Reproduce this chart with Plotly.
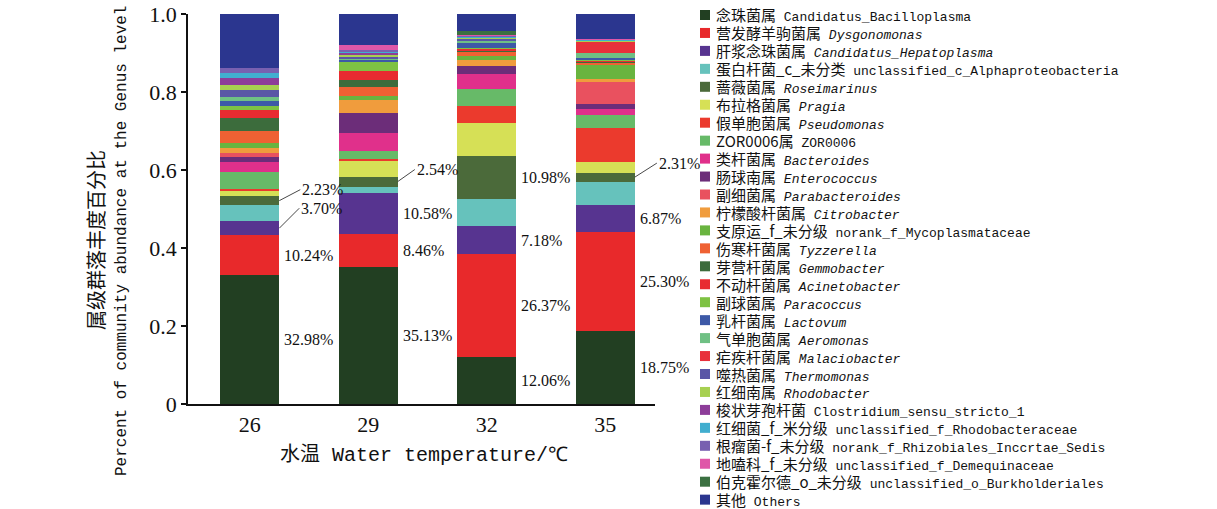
import plotly.graph_objects as go

# Water temperature groups (°C)
temperatures = ["26", "29", "32", "35"]

# Genus names: Chinese name, Latin name, whether the Latin name is italic
genus_cn = [
    "念珠菌属", "营发酵羊驹菌属", "肝浆念珠菌属", "蛋白杆菌_c_未分类", "蔷薇菌属",
    "布拉格菌属", "假单胞菌属", "ZOR0006属", "类杆菌属", "肠球南属",
    "副细菌属", "柠檬酸杆菌属", "支原运_f_未分级", "伤寒杆菌属", "芽营杆菌属",
    "不动杆菌属", "副球菌属", "乳杆菌属", "气单胞菌属", "疟疾杆菌属",
    "噬热菌属", "红细南属", "梭状芽孢杆菌", "红细菌_f_米分级", "根瘤菌-f_未分级",
    "地嗑科_f_未分级", "伯克霍尔德_o_未分级", "其他",
]
genus_en = [
    "Candidatus_Bacilloplasma", "Dysgonomonas", "Candidatus_Hepatoplasma",
    "unclassified_c_Alphaproteobacteria", "Roseimarinus", "Pragia", "Pseudomonas",
    "ZOR0006", "Bacteroides", "Enterococcus", "Parabacteroides", "Citrobacter",
    "norank_f_Mycoplasmataceae", "Tyzzerella", "Gemmobacter", "Acinetobacter",
    "Paracoccus", "Lactovum", "Aeromonas", "Malaciobacter", "Thermomonas",
    "Rhodobacter", "Clostridium_sensu_stricto_1", "unclassified_f_Rhodobacteraceae",
    "norank_f_Rhizobiales_Inccrtae_Sedis", "unclassified_f_Demequinaceae",
    "unclassified_o_Burkholderiales", "Others",
]
genus_italic = [
    False, True, True, False, True, True, True, False, True, True,
    True, True, False, True, True, True, True, True, True, True,
    True, True, False, False, False, False, False, False,
]
genus_colors = [
    "#223f22", "#e8292b", "#573490", "#66c2bc", "#4b6a3a",
    "#d6e056", "#eb3a2d", "#67ba68", "#e0308b", "#6c2d79",
    "#e9515f", "#f09c3d", "#69b43f", "#ef6133", "#3c6c3c",
    "#e82b31", "#7ec243", "#3d59a7", "#6fc084", "#e8303b",
    "#5a56a6", "#a7d051", "#8d3d99", "#41aecf", "#7860b0",
    "#df57a8", "#3b7041", "#2b368f",
]

# Relative abundance (%) of each genus, same order as the names above
abund_26 = [32.98, 10.24, 3.70, 4.10, 2.23, 1.50, 0.30, 4.40, 2.60, 1.20,
            1.10, 1.30, 1.40, 2.90, 3.50, 2.00, 1.00, 1.20, 1.10, 0.00,
            1.70, 1.40, 1.70, 1.30, 1.20, 0.00, 0.00, 13.95]
abund_29 = [35.13, 8.46, 10.58, 1.60, 2.54, 3.90, 0.60, 2.00, 4.60, 5.10,
            0.00, 3.50, 0.90, 2.50, 1.70, 2.40, 2.30, 0.50, 0.35, 0.00,
            0.50, 0.50, 0.40, 0.40, 0.30, 1.40, 0.00, 7.84]
abund_32 = [12.06, 26.37, 7.18, 6.90, 10.98, 8.60, 4.40, 4.20, 3.80, 2.30,
            0.00, 1.50, 0.90, 1.10, 0.40, 0.50, 0.20, 1.20, 0.50, 0.00,
            0.50, 0.30, 0.20, 0.20, 0.20, 0.10, 1.00, 4.41]
abund_35 = [18.75, 25.30, 6.87, 6.10, 2.31, 2.70, 8.80, 3.20, 1.50, 1.40,
            5.60, 0.70, 3.90, 0.40, 0.20, 0.40, 0.20, 0.40, 1.30, 2.80,
            0.20, 0.10, 0.10, 0.20, 0.10, 0.10, 0.00, 6.37]

# Which segments carry a percentage label: (group index, genus index, leader offset px or None)
labelled = [
    (0, 0, None), (0, 1, None), (0, 2, (20, -20)), (0, 4, (21, -11)),
    (1, 0, None), (1, 1, None), (1, 2, None), (1, 4, (17, -12)),
    (2, 0, None), (2, 1, None), (2, 2, None), (2, 4, None),
    (3, 0, None), (3, 1, None), (3, 2, None), (3, 4, (22, -14)),
]

abund = [abund_26, abund_29, abund_32, abund_35]
xpos = list(range(len(temperatures)))
BAR_W = 0.5

fig = go.Figure()
for g in range(len(genus_en)):
    fig.add_trace(go.Bar(
        x=xpos,
        y=[abund[t][g] / 100 for t in range(len(temperatures))],
        width=BAR_W,
        marker=dict(color=genus_colors[g], line=dict(width=0)),
        name=genus_en[g],
        showlegend=False,
    ))

annotations = []
LABEL_FONT = dict(family="Liberation Serif", size=16, color="#111")
for t, g, leader in labelled:
    base = sum(abund[t][:g])
    centre = (base + abund[t][g] / 2) / 100
    txt = f"{abund[t][g]:.2f}%"
    if leader is None:
        annotations.append(dict(
            x=xpos[t] + BAR_W / 2, y=centre, xref="x", yref="y",
            text=txt, showarrow=False, xanchor="left", yanchor="middle",
            xshift=3, font=LABEL_FONT,
        ))
    else:
        annotations.append(dict(
            x=xpos[t] + BAR_W / 2, y=centre, xref="x", yref="y",
            text=txt, showarrow=True, arrowhead=0, arrowwidth=0.9,
            arrowcolor="#333", ax=leader[0], ay=leader[1],
            xanchor="left", yanchor="middle", standoff=0, font=LABEL_FONT,
        ))

# Plot-area geometry in pixels, used to place the side legend and titles
L, R, T, B = 188, 655, 14, 404
W_FIG, H_FIG = 1217, 509


def px_to_paper(px, py):
    return (px - L) / (R - L), (B - py) / (B - T)


# Side legend: colour square + Chinese + Latin name per row
shapes = []
row_gap = 17.95
first_row = 15
for g in range(len(genus_en)):
    cy = first_row + g * row_gap
    x0, y0 = px_to_paper(700, cy - 5)
    x1, y1 = px_to_paper(710, cy + 5)
    shapes.append(dict(type="rect", xref="paper", yref="paper",
                       x0=x0, x1=x1, y0=y1, y1=y0,
                       fillcolor=genus_colors[g], line=dict(width=0)))
    en = f"<i>{genus_en[g]}</i>" if genus_italic[g] else genus_en[g]
    text = (f'<span style="font-family:Noto Sans CJK SC;font-size:15px">{genus_cn[g]}</span>'
            f' {en}')
    tx, ty = px_to_paper(714, cy)
    annotations.append(dict(
        x=tx, y=ty, xref="paper", yref="paper", text=text, showarrow=False,
        xanchor="left", yanchor="middle",
        font=dict(family="Liberation Mono", size=13, color="#111"),
    ))

# Axis titles
cx, cy = px_to_paper(96, 240)
annotations.append(dict(
    x=cx, y=cy, xref="paper", yref="paper", text="属级群落丰度百分比",
    textangle=-90, showarrow=False, xanchor="center", yanchor="middle",
    font=dict(family="Noto Sans CJK SC", size=20, color="#111"),
))
cx, cy = px_to_paper(122, 241)
annotations.append(dict(
    x=cx, y=cy, xref="paper", yref="paper",
    text="Percent of community abundance at the Genus level",
    textangle=-90, showarrow=False, xanchor="center", yanchor="middle",
    font=dict(family="Liberation Mono", size=16, color="#111"),
))
cx, cy = px_to_paper(424, 452)
annotations.append(dict(
    x=cx, y=cy, xref="paper", yref="paper",
    text='<span style="font-family:Noto Sans CJK SC">水温</span> Water temperature/℃',
    showarrow=False, xanchor="center", yanchor="middle",
    font=dict(family="Liberation Mono", size=20, color="#111"),
))

fig.update_layout(
    width=W_FIG, height=H_FIG,
    margin=dict(l=L, r=W_FIG - R, t=T, b=H_FIG - B, pad=0),
    barmode="stack", bargap=0,
    paper_bgcolor="white", plot_bgcolor="white",
    annotations=annotations, shapes=shapes,
    showlegend=False,
    xaxis=dict(
        tickmode="array", tickvals=xpos, ticktext=temperatures,
        range=[-0.52, 3.42], showline=True, linecolor="#111", linewidth=1.5,
        ticks="", showgrid=False, zeroline=False, automargin=False,
        tickfont=dict(family="Liberation Serif", size=22, color="#111"),
    ),
    yaxis=dict(
        range=[0, 1.0], tickmode="array",
        tickvals=[0, 0.2, 0.4, 0.6, 0.8, 1.0],
        ticktext=["0", "0.2", "0.4", "0.6", "0.8", "1.0"],
        showline=True, linecolor="#111", linewidth=1.5,
        ticks="outside", ticklen=5, tickwidth=1.5, tickcolor="#111",
        showgrid=False, zeroline=False, automargin=False,
        tickfont=dict(family="Liberation Serif", size=22, color="#111"),
    ),
)

fig.write_html("out.html")
